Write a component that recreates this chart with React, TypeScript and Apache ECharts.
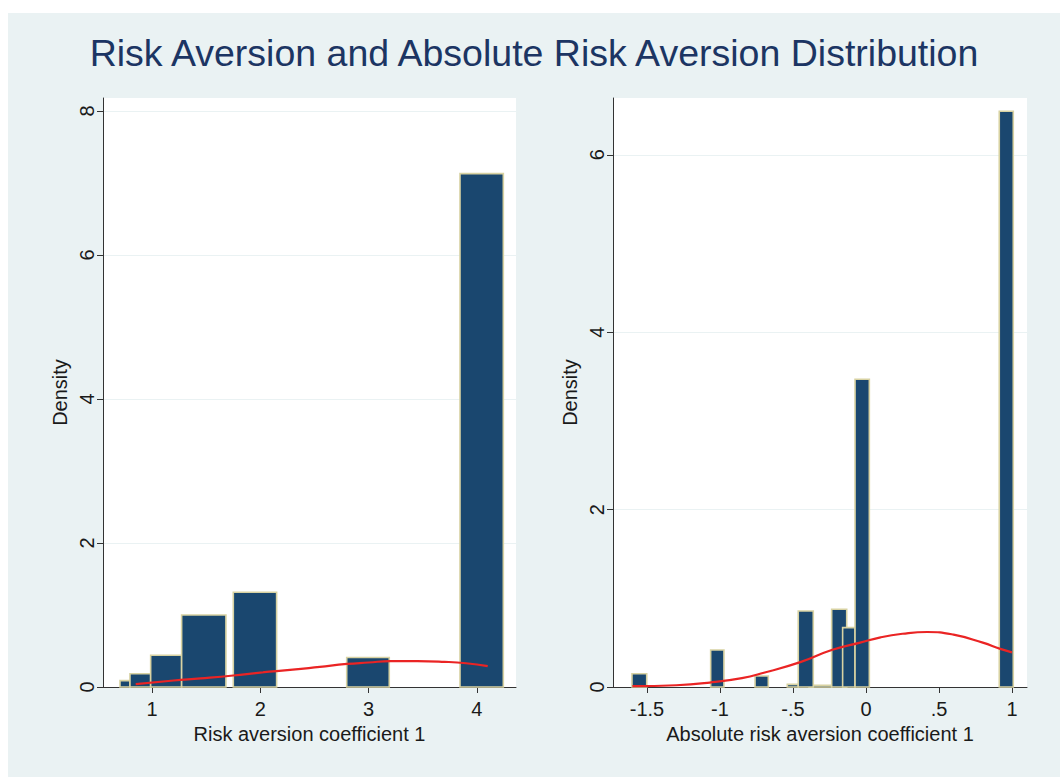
import React, { useEffect, useRef } from "react";
import * as echarts from "echarts";

// ---- Data ----
const titleText = "Risk Aversion and Absolute Risk Aversion Distribution";

// Left panel: Risk aversion coefficient 1 (histogram bins: start, end, density)
const leftBinStart = [0.705, 0.797, 0.988, 1.274, 1.751, 2.798, 3.844];
const leftBinEnd = [0.797, 0.988, 1.274, 1.683, 2.151, 3.191, 4.244];
const leftDensity = [0.088, 0.185, 0.44, 1.0, 1.315, 0.41, 7.13];
const leftCurveX = [0.85, 1.2, 1.45, 1.75, 2.0, 2.3, 2.55, 2.8, 3.0, 3.2, 3.45, 3.7, 3.9, 4.1];
const leftCurveY = [0.04, 0.09, 0.12, 0.16, 0.2, 0.24, 0.28, 0.32, 0.34, 0.36, 0.36, 0.35, 0.33, 0.29];
const leftXTicks = [1, 2, 3, 4];
const leftYTicks = [0, 2, 4, 6, 8];

// Right panel: Absolute risk aversion coefficient 1
const rightBinStart = [-1.603, -1.064, -0.76, -0.539, -0.39, -0.464, -0.235, -0.16, -0.075, 0.913];
const rightBinEnd = [-1.502, -0.973, -0.669, -0.464, -0.235, -0.361, -0.132, -0.075, 0.023, 1.009];
const rightDensity = [0.15, 0.417, 0.124, 0.03, 0.02, 0.857, 0.876, 0.669, 3.47, 6.49];
const rightCurveX = [-1.6, -1.3, -1.07, -0.85, -0.7, -0.45, -0.23, -0.04, 0.1, 0.25, 0.42, 0.6, 0.8, 0.92, 1.0];
const rightCurveY = [0.01, 0.02, 0.05, 0.1, 0.16, 0.28, 0.42, 0.5, 0.56, 0.6, 0.62, 0.59, 0.5, 0.43, 0.39];
const rightXTicks = [-1.5, -1, -0.5, 0, 0.5, 1];
const rightYTicks = [0, 2, 4, 6];

const FONT = "Liberation Sans, Arial, Helvetica, sans-serif";
const BAR_FILL = "#1a476f";
const BAR_EDGE = "#d8d2a2";
const CURVE = "#ea2424";
const AXIS = "#333333";
const TEXT = "#1a1a1a";
const FS = 20;

function fmtTick(v: number): string {
  if (v === 0) return "0";
  const s = String(v);
  return s.replace(/^(-?)0\./, "$1.");
}

function renderBin(params: any, api: any) {
  const x0 = api.value(0);
  const x1 = api.value(1);
  const h = api.value(2);
  const p0 = api.coord([x0, h]);
  const p1 = api.coord([x1, 0]);
  return {
    type: "rect",
    shape: { x: p0[0], y: p0[1], width: p1[0] - p0[0], height: p1[1] - p0[1] },
    style: { fill: BAR_FILL, stroke: BAR_EDGE, lineWidth: 1.6 },
  };
}

function xAxisCfg(grid: number, min: number, max: number, ticks: number[], name: string) {
  return {
    gridIndex: grid,
    type: "value",
    min,
    max,
    axisLine: { show: true, onZero: false, lineStyle: { color: AXIS, width: 1 } },
    axisTick: { show: true, length: 6, customValues: ticks, lineStyle: { color: AXIS } },
    axisLabel: {
      customValues: ticks,
      formatter: (v: number) => fmtTick(v),
      fontSize: FS,
      color: TEXT,
      fontFamily: FONT,
      margin: 12,
    },
    splitLine: { show: false },
    name,
    nameLocation: "middle",
    nameGap: 31,
    nameTextStyle: { fontSize: FS, color: TEXT, fontFamily: FONT },
  };
}

function yAxisCfg(grid: number, max: number, ticks: number[]) {
  return {
    gridIndex: grid,
    type: "value",
    min: 0,
    max,
    interval: 2,
    axisLine: { show: true, onZero: false, lineStyle: { color: AXIS, width: 1 } },
    axisTick: { show: true, length: 6, customValues: ticks, lineStyle: { color: AXIS } },
    axisLabel: {
      customValues: ticks,
      rotate: 90,
      fontSize: FS,
      color: TEXT,
      fontFamily: FONT,
      margin: 6,
    },
    splitLine: { show: true, lineStyle: { color: "#eaf2f3", width: 1 } },
    name: "Density",
    nameLocation: "middle",
    nameGap: 33,
    nameTextStyle: { fontSize: FS, color: TEXT, fontFamily: FONT },
  };
}

export default function App() {
  const ref = useRef<HTMLDivElement>(null);

  useEffect(() => {
    if (!ref.current) return;
    const chart = echarts.init(ref.current, undefined, { renderer: "svg" });

    const leftBins = leftBinStart.map((x0, i) => [x0, leftBinEnd[i], leftDensity[i]]);
    const rightBins = rightBinStart.map((x0, i) => [x0, rightBinEnd[i], rightDensity[i]]);
    const leftCurve = leftCurveX.map((x, i) => [x, leftCurveY[i]]);
    const rightCurve = rightCurveX.map((x, i) => [x, rightCurveY[i]]);

    chart.setOption({
      animation: false,
      backgroundColor: "#eaf2f3",
      textStyle: { fontFamily: FONT },
      title: {
        text: titleText,
        left: "center",
        top: 16,
        textStyle: { fontSize: 37.5, fontWeight: "normal", color: "#1c3563", fontFamily: FONT },
      },
      grid: [
        { left: 95, top: 85, width: 413, height: 589, show: true, backgroundColor: "#ffffff", borderWidth: 0 },
        { left: 605, top: 85, width: 414, height: 589, show: true, backgroundColor: "#ffffff", borderWidth: 0 },
      ],
      xAxis: [
        xAxisCfg(0, 0.548, 4.361, leftXTicks, "Risk aversion coefficient 1"),
        xAxisCfg(1, -1.733, 1.103, rightXTicks, "Absolute risk aversion coefficient 1"),
      ],
      yAxis: [yAxisCfg(0, 8.18, leftYTicks), yAxisCfg(1, 6.64, rightYTicks)],
      series: [
        {
          type: "custom",
          xAxisIndex: 0,
          yAxisIndex: 0,
          renderItem: renderBin,
          encode: { x: [0, 1], y: 2 },
          data: leftBins,
          z: 2,
        },
        {
          type: "line",
          xAxisIndex: 0,
          yAxisIndex: 0,
          data: leftCurve,
          smooth: true,
          showSymbol: false,
          lineStyle: { color: CURVE, width: 2.2 },
          z: 3,
        },
        {
          type: "custom",
          xAxisIndex: 1,
          yAxisIndex: 1,
          renderItem: renderBin,
          encode: { x: [0, 1], y: 2 },
          data: rightBins,
          z: 2,
        },
        {
          type: "line",
          xAxisIndex: 1,
          yAxisIndex: 1,
          data: rightCurve,
          smooth: true,
          showSymbol: false,
          lineStyle: { color: CURVE, width: 2.2 },
          z: 3,
        },
      ],
    });

    return () => chart.dispose();
  }, []);

  return (
    <div
      ref={ref}
      style={{ position: "fixed", left: 8, top: 13, width: 1052, height: 764 }}
    />
  );
}
